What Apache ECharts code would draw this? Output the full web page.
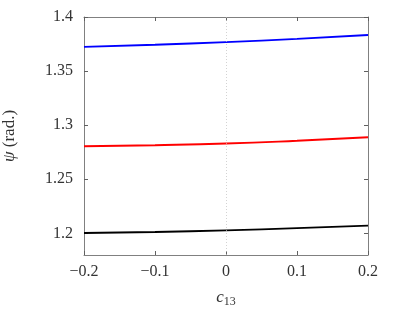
<!DOCTYPE html>
<html>
<head>
<meta charset="utf-8">
<script src="https://cdn.jsdelivr.net/npm/echarts@6/dist/echarts.min.js"></script>
<style>html,body{margin:0;padding:0;background:#fff}#c{width:399px;height:310px}</style>
</head>
<body>
<div id="c"></div>
<script>
const xValues = [-0.2, -0.1, 0, 0.1, 0.2];
const blueValues = [1.3724, 1.3743, 1.3768, 1.3798, 1.3833];
const redValues = [1.2805, 1.2815, 1.2830, 1.2856, 1.2888];
const blackValues = [1.2003, 1.2013, 1.2028, 1.2048, 1.2072];
const xTicks = [-0.2, -0.1, 0, 0.1, 0.2];
const yTicks = [1.2, 1.25, 1.3, 1.35, 1.4];
const xLabel = 'c';
const xLabelSub = '13';
const yLabelSym = 'ψ';
const yLabelUnit = ' (rad.)';

const font = 'Liberation Serif';
const fmtX = v => { const r = Math.round(v * 10) / 10; return r < 0 ? '\u2212' + Math.abs(r).toString() : r.toString(); };
const fmtY = v => (Math.round(v * 100) / 100).toString();
const axisLine = { show: true, onZero: false, lineStyle: { color: '#808080', width: 1 } };
const tick = { show: true, inside: true, length: 4, lineStyle: { color: '#606060' } };

const chart = echarts.init(document.getElementById('c'), null, { renderer: 'canvas' });
const pair = ys => xValues.map((x, i) => [x, ys[i]]);
chart.setOption({
  animation: false,
  backgroundColor: '#fff',
  grid: { left: 84, right: 31, top: 17, bottom: 55, containLabel: false, outerBoundsMode: 'none' },
  xAxis: [
    { type: 'value', min: -0.2, max: 0.2, interval: 0.1, position: 'bottom',
      axisLine, axisTick: Object.assign({}, tick, { customValues: xTicks }),
      axisLabel: { customValues: xTicks, formatter: fmtX, color: '#333', fontFamily: font, fontSize: 16, margin: 9 },
      splitLine: { show: false },
      name: '{i|' + xLabel + '}{s|' + xLabelSub + '}', nameLocation: 'middle', nameGap: 33,
      nameTextStyle: { rich: { i: { fontFamily: font, fontStyle: 'italic', fontSize: 17, color: '#333' }, s: { fontFamily: font, fontSize: 12, color: '#333', padding: [8, 0, 0, 0] } } } },
    { type: 'value', min: -0.2, max: 0.2, interval: 0.1, position: 'top',
      axisLine, axisTick: Object.assign({}, tick, { customValues: xTicks }), axisLabel: { show: false }, splitLine: { show: false } }
  ],
  yAxis: [
    { type: 'value', min: 1.18, max: 1.4, position: 'left',
      axisLine, axisTick: Object.assign({}, tick, { customValues: yTicks }),
      axisLabel: { customValues: yTicks, formatter: fmtY, color: '#333', fontFamily: font, fontSize: 16, margin: 11 },
      splitLine: { show: false },
      name: '{i|' + yLabelSym + '}{n|' + yLabelUnit + '}', nameLocation: 'middle', nameGap: 66, nameRotate: 90,
      nameTextStyle: { rich: { i: { fontFamily: font, fontStyle: 'italic', fontSize: 17, color: '#333' }, n: { fontFamily: font, fontSize: 17, color: '#333' } } } },
    { type: 'value', min: 1.18, max: 1.4, position: 'right',
      axisLine, axisTick: Object.assign({}, tick, { customValues: yTicks }), axisLabel: { show: false }, splitLine: { show: false } }
  ],
  series: [
    { type: 'line', data: pair(blueValues), smooth: true, showSymbol: false, lineStyle: { color: '#0000ff', width: 1.9 },
      markLine: { silent: true, symbol: 'none', label: { show: false },
        lineStyle: { color: '#c0c0c0', type: [1, 2], width: 0.7 }, data: [{ xAxis: 0 }] } },
    { type: 'line', data: pair(redValues), smooth: true, showSymbol: false, lineStyle: { color: '#ff0000', width: 1.9 } },
    { type: 'line', data: pair(blackValues), smooth: true, showSymbol: false, lineStyle: { color: '#000000', width: 1.9 } }
  ]
});
</script>
</body>
</html>
